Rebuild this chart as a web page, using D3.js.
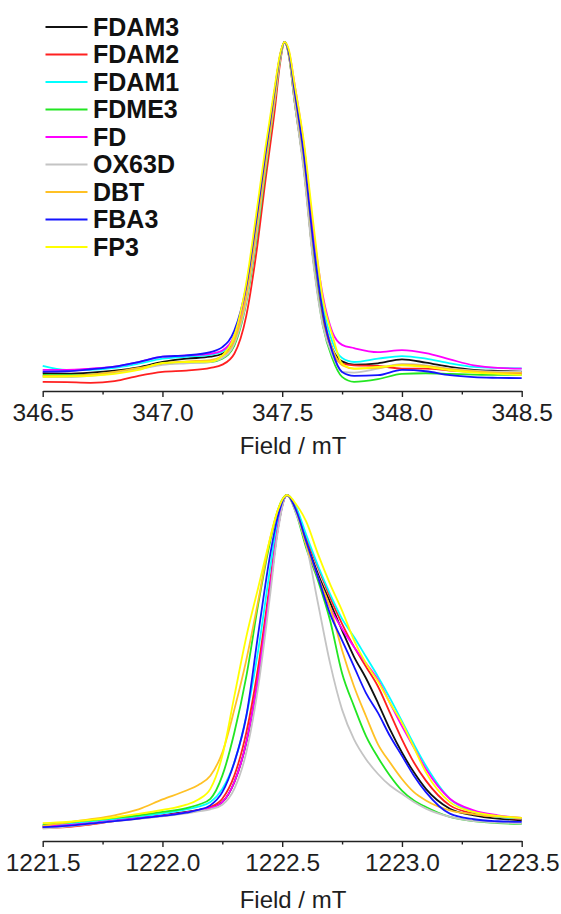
<!DOCTYPE html>
<html>
<head>
<meta charset="utf-8">
<script src="https://cdn.jsdelivr.net/npm/d3@7"></script>
<style>
  html, body { margin: 0; padding: 0; background: #ffffff; }
  svg { display: block; }
</style>
</head>
<body>
<svg id="chart" width="561" height="914"></svg>
<script>
// Sample names (legend order = drawing order) and their trace colours
const samples = ["FDAM3", "FDAM2", "FDAM1", "FDME3", "FD", "OX63D", "DBT", "FBA3", "FP3"];
const palette = ["#111111", "#ff2020", "#00ffff", "#22e622", "#ff00ff", "#c4c4c4", "#ffc125", "#1414ff", "#ffff00"];

// X-band spectra: field (mT) and normalised intensity
const fieldX = [346.50, 346.60, 346.70, 346.80, 346.90, 347.00, 347.10, 347.20, 347.25, 347.30, 347.35,
                347.39, 347.43, 347.47, 347.49, 347.51, 347.53, 347.55, 347.59, 347.63, 347.67, 347.71,
                347.75, 347.80, 347.90, 348.00, 348.10, 348.20, 348.30, 348.40, 348.50];
const xFDAM3 = [-0.004, -0.005, -0.002, 0.004, 0.014, 0.030, 0.040, 0.046, 0.055, 0.095, 0.22, 0.40, 0.62, 0.83, 0.945, 1.0, 0.955, 0.84, 0.64, 0.36, 0.17, 0.07, 0.032, 0.022, 0.026, 0.038, 0.028, 0.015, 0.006, 0.003, 0.001];
const xFDAM2 = [-0.030, -0.031, -0.033, -0.028, -0.012, 0.000, 0.004, 0.012, 0.022, 0.055, 0.17, 0.35, 0.58, 0.80, 0.93, 1.0, 0.95, 0.83, 0.62, 0.34, 0.15, 0.06, 0.025, 0.020, 0.018, 0.010, 0.010, 0.004, 0.000, -0.003, -0.004];
const xFDAM1 = [0.018, 0.006, 0.006, 0.012, 0.025, 0.040, 0.046, 0.052, 0.062, 0.10, 0.24, 0.43, 0.65, 0.85, 0.95, 1.0, 0.96, 0.86, 0.67, 0.40, 0.20, 0.09, 0.042, 0.030, 0.040, 0.048, 0.040, 0.026, 0.015, 0.012, 0.011];
const xFDME3 = [-0.009, -0.010, -0.008, -0.002, 0.010, 0.024, 0.028, 0.030, 0.040, 0.08, 0.21, 0.39, 0.61, 0.83, 0.94, 1.0, 0.95, 0.83, 0.62, 0.34, 0.14, 0.04, -0.015, -0.030, -0.022, -0.006, -0.004, -0.006, -0.008, -0.009, -0.009];
const xFD    = [0.006, 0.006, 0.010, 0.016, 0.030, 0.046, 0.050, 0.055, 0.065, 0.11, 0.25, 0.44, 0.66, 0.86, 0.955, 1.0, 0.965, 0.88, 0.69, 0.43, 0.23, 0.12, 0.082, 0.072, 0.060, 0.066, 0.057, 0.038, 0.020, 0.012, 0.010];
const xOX63D = [-0.015, -0.016, -0.012, -0.004, 0.008, 0.021, 0.026, 0.030, 0.042, 0.085, 0.215, 0.40, 0.62, 0.83, 0.94, 1.0, 0.95, 0.83, 0.61, 0.33, 0.14, 0.05, 0.000, -0.002, 0.010, 0.024, 0.020, 0.010, 0.004, 0.001, 0.001];
const xDBT   = [-0.012, -0.012, -0.008, 0.000, 0.012, 0.026, 0.032, 0.036, 0.048, 0.095, 0.23, 0.42, 0.63, 0.84, 0.95, 1.0, 0.955, 0.85, 0.65, 0.38, 0.18, 0.07, 0.020, 0.010, 0.012, 0.022, 0.018, 0.008, 0.002, -0.002, -0.003];
const xFBA3  = [0.001, 0.002, 0.008, 0.016, 0.030, 0.046, 0.050, 0.060, 0.075, 0.125, 0.26, 0.45, 0.66, 0.86, 0.955, 1.0, 0.96, 0.86, 0.66, 0.39, 0.18, 0.06, 0.000, -0.012, -0.010, 0.006, 0.002, -0.010, -0.016, -0.018, -0.019];
const xFP3   = [-0.015, -0.014, -0.012, -0.006, 0.006, 0.027, 0.030, 0.031, 0.050, 0.11, 0.27, 0.47, 0.68, 0.87, 0.96, 1.0, 0.97, 0.88, 0.70, 0.45, 0.22, 0.11, 0.025, 0.010, 0.015, 0.020, 0.015, 0.005, -0.002, -0.006, -0.009];

// Q-band spectra: field (mT) and normalised intensity
const fieldQ = [1221.50, 1221.60, 1221.70, 1221.80, 1221.90, 1222.00, 1222.10, 1222.15, 1222.20, 1222.25, 1222.30,
                1222.35, 1222.40, 1222.45, 1222.48, 1222.52, 1222.56, 1222.60, 1222.65, 1222.70, 1222.75, 1222.80,
                1222.85, 1222.90, 1222.95, 1223.00, 1223.05, 1223.10, 1223.20, 1223.30, 1223.40, 1223.50];
const qFDAM3 = [-0.005, 0.000, 0.008, 0.015, 0.022, 0.030, 0.040, 0.046, 0.053, 0.070, 0.13, 0.25, 0.45, 0.72, 0.89, 1.0, 0.95, 0.86, 0.76, 0.675, 0.59, 0.51, 0.445, 0.37, 0.29, 0.22, 0.16, 0.11, 0.05, 0.03, 0.02, 0.015];
const qFDAM2 = [-0.008, -0.006, 0.002, 0.012, 0.020, 0.028, 0.038, 0.045, 0.055, 0.08, 0.15, 0.28, 0.48, 0.74, 0.90, 1.0, 0.955, 0.87, 0.78, 0.69, 0.61, 0.54, 0.48, 0.42, 0.34, 0.26, 0.19, 0.135, 0.06, 0.035, 0.025, 0.018];
const qFDAM1 = [0.000, 0.004, 0.010, 0.018, 0.026, 0.036, 0.048, 0.056, 0.070, 0.11, 0.19, 0.33, 0.53, 0.78, 0.92, 1.0, 0.96, 0.88, 0.785, 0.70, 0.625, 0.57, 0.51, 0.45, 0.385, 0.315, 0.245, 0.18, 0.08, 0.04, 0.025, 0.020];
const qFDME3 = [0.000, 0.008, 0.015, 0.022, 0.030, 0.040, 0.052, 0.062, 0.080, 0.15, 0.28, 0.45, 0.67, 0.86, 0.95, 1.0, 0.94, 0.84, 0.74, 0.62, 0.46, 0.36, 0.27, 0.205, 0.15, 0.105, 0.075, 0.055, 0.025, 0.012, 0.006, 0.004];
const qFD    = [-0.004, 0.000, 0.006, 0.014, 0.021, 0.029, 0.039, 0.045, 0.052, 0.07, 0.13, 0.25, 0.45, 0.72, 0.89, 1.0, 0.95, 0.85, 0.75, 0.66, 0.595, 0.54, 0.49, 0.44, 0.37, 0.30, 0.235, 0.17, 0.08, 0.045, 0.03, 0.022];
const qOX63D = [-0.010, -0.004, 0.004, 0.012, 0.019, 0.027, 0.036, 0.042, 0.048, 0.062, 0.11, 0.22, 0.42, 0.70, 0.88, 1.0, 0.94, 0.85, 0.67, 0.49, 0.35, 0.26, 0.20, 0.155, 0.12, 0.095, 0.07, 0.05, 0.025, 0.012, 0.008, 0.005];
const qDBT   = [-0.002, 0.008, 0.018, 0.030, 0.048, 0.078, 0.105, 0.122, 0.15, 0.22, 0.35, 0.50, 0.68, 0.87, 0.95, 1.0, 0.95, 0.85, 0.75, 0.66, 0.53, 0.42, 0.33, 0.245, 0.19, 0.14, 0.10, 0.075, 0.045, 0.033, 0.026, 0.022];
const qFBA3  = [-0.006, -0.002, 0.005, 0.012, 0.020, 0.028, 0.038, 0.046, 0.060, 0.10, 0.19, 0.33, 0.58, 0.82, 0.93, 1.0, 0.95, 0.86, 0.75, 0.64, 0.56, 0.48, 0.40, 0.34, 0.27, 0.21, 0.15, 0.10, 0.035, 0.018, 0.012, 0.010];
const qFP3   = [0.006, 0.010, 0.016, 0.024, 0.034, 0.046, 0.062, 0.078, 0.11, 0.21, 0.39, 0.57, 0.72, 0.87, 0.95, 1.0, 0.97, 0.92, 0.82, 0.73, 0.65, 0.56, 0.49, 0.435, 0.37, 0.31, 0.235, 0.16, 0.07, 0.04, 0.028, 0.022];

// Axis ticks
const xTicks = [346.5, 347.0, 347.5, 348.0, 348.5];
const xMinor = [346.75, 347.25, 347.75, 348.25];
const qTicks = [1221.5, 1222.0, 1222.5, 1223.0, 1223.5];
const qMinor = [1221.75, 1222.25, 1222.75, 1223.25];
const axisTitle = "Field / mT";

const xSeries = [xFDAM3, xFDAM2, xFDAM1, xFDME3, xFD, xOX63D, xDBT, xFBA3, xFP3];
const qSeries = [qFDAM3, qFDAM2, qFDAM1, qFDME3, qFD, qOX63D, qDBT, qFBA3, qFP3];

const FONT = "'Liberation Sans', Arial, Helvetica, sans-serif";
const svg = d3.select("#chart");

const panels = [
  { field: fieldX, series: xSeries, ticks: xTicks, minor: xMinor,
    yDomain: [-0.06, 1], top: 42, axisY: 391, labelDy: 30, titleY: 454 },
  { field: fieldQ, series: qSeries, ticks: qTicks, minor: qMinor,
    yDomain: [-0.05, 1], top: 495, axisY: 841, labelDy: 30, titleY: 908 }
];

const left = 42.7, right = 521.7;

panels.forEach(p => {
  const x = d3.scaleLinear().domain([p.ticks[0], p.ticks[p.ticks.length - 1]]).range([left, right]);
  const y = d3.scaleLinear().domain(p.yDomain).range([p.axisY + 0.7, p.top]);

  const line = d3.line()
    .x((d, i) => x(p.field[i]))
    .y(d => y(d))
    .curve(d3.curveMonotoneX);

  const g = svg.append("g");
  p.series.forEach((vals, k) => {
    g.append("path")
      .attr("d", line(vals))
      .attr("fill", "none")
      .attr("stroke", palette[k])
      .attr("stroke-width", 1.8)
      .attr("stroke-linejoin", "round");
  });

  // minor ticks
  const minorAxis = d3.axisBottom(x).tickValues(p.minor).tickSize(3.5).tickFormat("");
  const gm = svg.append("g").attr("transform", `translate(0,${p.axisY})`).call(minorAxis);
  gm.select(".domain").remove();
  gm.selectAll("line").attr("stroke", "#222").attr("stroke-width", 1.4);

  // major ticks with labels
  const axis = d3.axisBottom(x).tickValues(p.ticks).tickFormat(d3.format(".1f"))
    .tickSize(6).tickSizeOuter(0);
  const ga = svg.append("g").attr("transform", `translate(0,${p.axisY})`).call(axis);
  ga.select(".domain").attr("stroke", "#222").attr("stroke-width", 1.4);
  ga.selectAll("line").attr("stroke", "#222").attr("stroke-width", 1.4);
  ga.selectAll("text")
    .attr("y", p.labelDy).attr("dy", null)
    .attr("fill", "#1e1e1e")
    .style("font-family", FONT)
    .style("font-size", "24.5px");

  svg.append("text")
    .attr("x", 293).attr("y", p.titleY)
    .attr("text-anchor", "middle")
    .attr("fill", "#1e1e1e")
    .style("font-family", FONT)
    .style("font-size", "24px")
    .text(axisTitle);
});

// Legend
const legend = svg.append("g");
samples.forEach((name, k) => {
  const ly = 27 + k * 27.5;
  legend.append("line")
    .attr("x1", 45.5).attr("x2", 87.5).attr("y1", ly).attr("y2", ly)
    .attr("stroke", palette[k]).attr("stroke-width", 1.8);
  legend.append("text")
    .attr("x", 93).attr("y", ly + 8.5)
    .attr("fill", "#111")
    .style("font-family", FONT)
    .style("font-weight", "bold")
    .style("font-size", "25px")
    .text(name);
});
</script>
</body>
</html>
